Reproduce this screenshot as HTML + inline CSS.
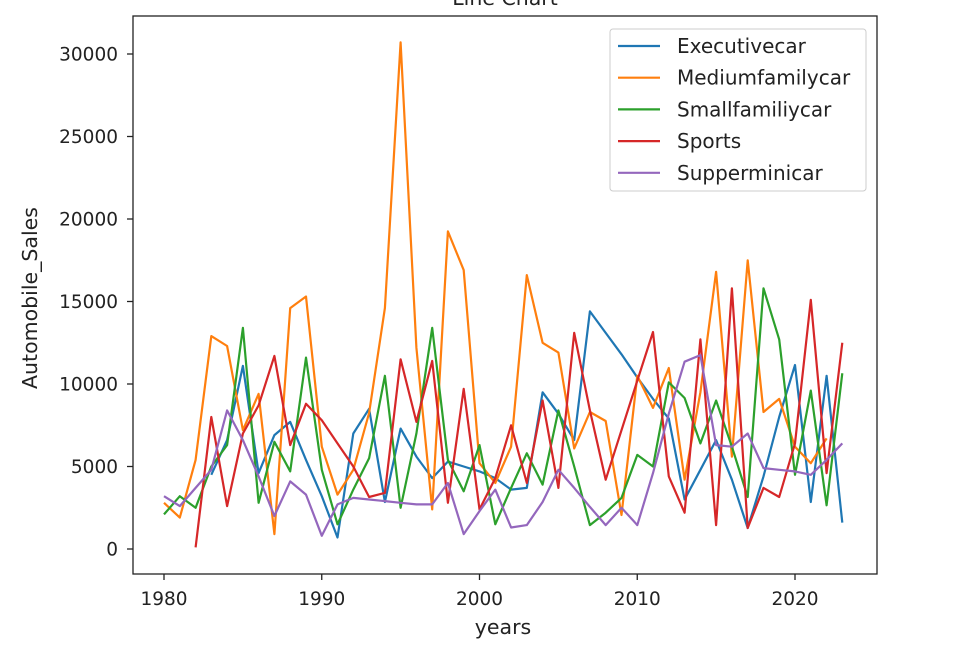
<!DOCTYPE html>
<html><head><meta charset="utf-8"><style>
html,body{margin:0;padding:0;background:#fff;}
svg{display:block;font-family:"DejaVu Sans","Liberation Sans",sans-serif;}
</style></head><body>
<svg id="chart" width="963" height="646" viewBox="0 0 963 646">
<text x="505" y="5" text-anchor="middle" font-size="20.5" fill="#222">Line Chart</text>
<g id="series"></g>
<rect x="133" y="16" width="744" height="558" fill="none" stroke="#222" stroke-width="1.3"/>
<g id="axes"></g>
<text x="503" y="634" text-anchor="middle" font-size="20.5" fill="#222">years</text>
<text transform="translate(37,298) rotate(-90)" text-anchor="middle" font-size="20.5" fill="#222">Automobile_Sales</text>
<g id="legend"></g>
</svg>
<script>
const years = [];
for (let y = 1980; y <= 2023; y++) years.push(y);
const executiveYears = years.slice(3);
const executivecar = [4500,6600,11100,4600,6900,7700,5400,3200,700,7000,8500,2850,7300,5600,4300,5300,5000,4700,4300,3600,3700,9500,8200,6600,14400,13100,11800,10400,9100,7900,3000,4800,6600,4200,1270,4400,8000,11150,2850,10500,1600];
const mediumYears = years.slice(0, 43);
const mediumfamilycar = [2800,1900,5400,12900,12300,7200,9400,900,14600,15300,6200,3300,4800,8240,14600,30700,12200,2400,19250,16900,5200,4000,6200,16600,12500,11900,6100,8300,7760,2060,10500,8550,10970,4200,9500,16800,5600,17500,8300,9100,6200,5200,6700];
const smallfamiliycar = [2100,3200,2500,5000,6300,13400,2800,6500,4700,11600,4800,1500,3600,5500,10500,2500,7000,13400,5400,3500,6300,1500,3700,5800,3900,8400,5000,1450,2200,3100,5700,5000,10100,9150,6400,9000,6200,3150,15800,12700,4500,9600,2650,10650];
const sportsYears = years.slice(2);
const sports = [100,8000,2600,7000,8700,11700,6300,8800,7800,6400,5000,3150,3400,11500,7700,11400,2800,9700,2400,4300,7500,4000,9000,3700,13100,8400,4200,7200,10200,13150,4400,2200,12700,1450,15800,1270,3700,3150,6400,15100,4600,12500];
const supperminicar = [3200,2600,3700,4800,8400,6600,4400,2000,4100,3300,800,2700,3100,3000,2900,2800,2700,2700,4000,900,2300,3600,1300,1450,2850,4800,3700,2550,1450,2500,1450,4600,8200,11350,11750,6300,6200,7000,4900,4800,4700,4500,5400,6400];
const seriesNames = ["Executivecar","Mediumfamilycar","Smallfamiliycar","Sports","Supperminicar"];
const yTicks = [0,5000,10000,15000,20000,25000,30000];
const xTicks = [1980,1990,2000,2010,2020];

const colors = ["#1f77b4","#ff7f0e","#2ca02c","#d62728","#9467bd"];
const NS = "http://www.w3.org/2000/svg";
function xs(v){ return 164 + (v - 1980) * 15.775; }
function ys(v){ return 549 - v * 0.0165; }

const seriesG = document.getElementById('series');
const data = [[executiveYears, executivecar],[mediumYears, mediumfamilycar],[years, smallfamiliycar],[sportsYears, sports],[years, supperminicar]];
data.forEach((d, i) => {
  const pts = d[1].map((v, j) => xs(d[0][j]).toFixed(1) + ',' + ys(v).toFixed(1)).join(' ');
  const pl = document.createElementNS(NS, 'polyline');
  pl.setAttribute('points', pts);
  pl.setAttribute('fill', 'none');
  pl.setAttribute('stroke', colors[i]);
  pl.setAttribute('stroke-width', '2.2');
  pl.setAttribute('stroke-linejoin', 'round');
  
  
  seriesG.appendChild(pl);
});

const axes = document.getElementById('axes');
yTicks.forEach(t => {
  const y = ys(t);
  const l = document.createElementNS(NS, 'line');
  l.setAttribute('x1', 127); l.setAttribute('x2', 133);
  l.setAttribute('y1', y); l.setAttribute('y2', y);
  l.setAttribute('stroke', '#222'); l.setAttribute('stroke-width', '1.3');
  
  
  axes.appendChild(l);
  const tx = document.createElementNS(NS, 'text');
  tx.setAttribute('x', 118); tx.setAttribute('y', y + 6.5);
  tx.setAttribute('text-anchor', 'end'); tx.setAttribute('font-size', '18.5');
  tx.setAttribute('fill', '#222');
  tx.textContent = t;
  
  
  axes.appendChild(tx);
});
xTicks.forEach(t => {
  const x = xs(t);
  const l = document.createElementNS(NS, 'line');
  l.setAttribute('x1', x); l.setAttribute('x2', x);
  l.setAttribute('y1', 574); l.setAttribute('y2', 580);
  l.setAttribute('stroke', '#222'); l.setAttribute('stroke-width', '1.3');
  
  
  axes.appendChild(l);
  const tx = document.createElementNS(NS, 'text');
  tx.setAttribute('x', x); tx.setAttribute('y', 605);
  tx.setAttribute('text-anchor', 'middle'); tx.setAttribute('font-size', '18.5');
  tx.setAttribute('fill', '#222');
  tx.textContent = t;
  
  
  axes.appendChild(tx);
});

const lg = document.getElementById('legend');
const box = document.createElementNS(NS, 'rect');
box.setAttribute('x', 610); box.setAttribute('y', 29);
box.setAttribute('width', 256); box.setAttribute('height', 162);
box.setAttribute('rx', 3);
box.setAttribute('fill', '#fff'); box.setAttribute('fill-opacity', '0.8');
box.setAttribute('stroke', '#ccc');


lg.appendChild(box);
seriesNames.forEach((n, i) => {
  const y = 46 + i * 31.7;
  const l = document.createElementNS(NS, 'line');
  l.setAttribute('x1', 618); l.setAttribute('x2', 660);
  l.setAttribute('y1', y); l.setAttribute('y2', y);
  l.setAttribute('stroke', colors[i]); l.setAttribute('stroke-width', '2.2');
  
  
  lg.appendChild(l);
  const tx = document.createElementNS(NS, 'text');
  tx.setAttribute('x', 677); tx.setAttribute('y', y + 7);
  tx.setAttribute('font-size', '20');
  tx.setAttribute('fill', '#222');
  tx.textContent = n;
  
  
  lg.appendChild(tx);
});
</script>
</body></html>
